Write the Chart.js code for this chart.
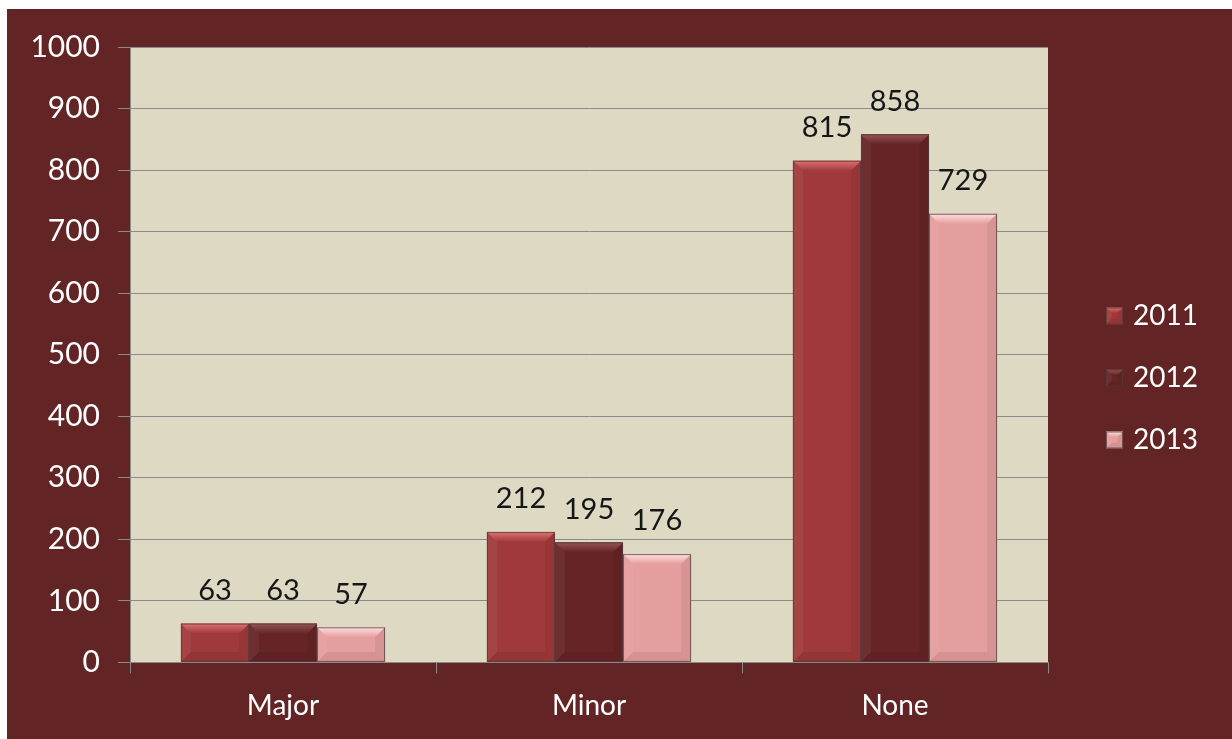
<!DOCTYPE html>
<html>
<head>
<meta charset="utf-8">
<script src="https://cdn.jsdelivr.net/npm/chart.js@4"></script>
<style>
  html, body { margin: 0; height: 100%; background: #632425; overflow: hidden; }
  .edge { position: absolute; background: #fff; }
  #top { left: 0; top: 0; right: 0; height: 9px; }
  #left { left: 0; top: 0; bottom: 0; width: 7px; }
  #wrap { position: absolute; left: 7px; top: 9px; right: 0; bottom: 0; background: #632425; }
</style>
</head>
<body>
<div class="edge" id="top"></div>
<div class="edge" id="left"></div>
<div id="wrap"><canvas id="c"></canvas></div>
<script>
const categories = ['Major', 'Minor', 'None'];
const years = ['2011', '2012', '2013'];
const values2011 = [63, 212, 815];
const values2012 = [63, 195, 858];
const values2013 = [57, 176, 729];
const yMax = 1000;
const yStep = 100;

// face colour and top-bevel highlight per year
const faceColors = ['#A03A3A', '#672426', '#E59E9E'];
const lightColors = ['#E07070', '#965454', '#FFE0E0'];

const FONT = 'Lato, "Open Sans", sans-serif';
const GRID = '#8A8A8A';

function poly(ctx, pts, fill) {
  ctx.beginPath();
  ctx.moveTo(pts[0][0], pts[0][1]);
  for (let i = 1; i < pts.length; i++) ctx.lineTo(pts[i][0], pts[i][1]);
  ctx.closePath();
  ctx.fillStyle = fill;
  ctx.fill();
}

// bevelled rectangle, like the old office "chisel" bars
function bevelBox(ctx, l, t, r, b, face, light, size) {
  const s = Math.min(size, (r - l) / 3, (b - t) / 2);
  ctx.save();
  ctx.fillStyle = face;
  ctx.fillRect(l, t, r - l, b - t);
  const g = ctx.createLinearGradient(0, t, 0, t + s);
  g.addColorStop(0, light);
  g.addColorStop(1, face);
  poly(ctx, [[l, t], [r, t], [r - s, t + s], [l + s, t + s]], g);
  poly(ctx, [[l, t], [l + s, t + s], [l + s, b - s], [l, b]], 'rgba(255,255,255,0.05)');
  poly(ctx, [[r, t], [r, b], [r - s, b - s], [r - s, t + s]], 'rgba(0,0,0,0.06)');
  poly(ctx, [[l, b], [l + s, b - s], [r - s, b - s], [r, b]], 'rgba(0,0,0,0.07)');
  ctx.strokeStyle = 'rgba(80,60,60,0.75)';
  ctx.lineWidth = 1;
  ctx.strokeRect(l + 0.5, t + 0.5, r - l - 1, b - t - 1);
  ctx.restore();
}

const plotBg = {
  id: 'plotBg',
  beforeDraw(chart) {
    const { ctx, chartArea: a } = chart;
    ctx.save();
    ctx.fillStyle = '#DDD9C3';
    ctx.fillRect(a.left, a.top, a.right - a.left, a.bottom - a.top);
    ctx.restore();
  }
};

const bevelBars = {
  id: 'bevelBars',
  afterDatasetsDraw(chart) {
    const ctx = chart.ctx;
    chart.data.datasets.forEach((ds, i) => {
      chart.getDatasetMeta(i).data.forEach((bar, j) => {
        const p = bar.getProps(['x', 'y', 'base', 'width'], true);
        const l = p.x - p.width / 2, r = p.x + p.width / 2;
        bevelBox(ctx, l, p.y, r, p.base, faceColors[i], lightColors[i], 10);
        ctx.save();
        ctx.fillStyle = '#161616';
        ctx.font = '29px ' + FONT;
        ctx.textAlign = 'center';
        ctx.textBaseline = 'middle';
        ctx.fillText(String(ds.data[j]), p.x, p.y - 33);
        ctx.restore();
      });
    });
  }
};

const sideLegend = {
  id: 'sideLegend',
  afterDraw(chart) {
    const ctx = chart.ctx;
    const x = chart.chartArea.right + 58;
    const mid = chart.height / 2 + 4;
    chart.data.datasets.forEach((ds, i) => {
      const cy = mid + (i - 1) * 62;
      bevelBox(ctx, x, cy - 8.5, x + 17, cy + 8.5, faceColors[i], lightColors[i], 7);
      ctx.save();
      ctx.fillStyle = '#FFFFFF';
      ctx.font = '28px ' + FONT;
      ctx.textBaseline = 'middle';
      ctx.fillText(ds.label, x + 27, cy);
      ctx.restore();
    });
  }
};

new Chart(document.getElementById('c'), {
  type: 'bar',
  data: {
    labels: categories,
    datasets: [
      { label: years[0], data: values2011, backgroundColor: faceColors[0] },
      { label: years[1], data: values2012, backgroundColor: faceColors[1] },
      { label: years[2], data: values2013, backgroundColor: faceColors[2] }
    ]
  },
  options: {
    responsive: true,
    maintainAspectRatio: false,
    animation: false,
    categoryPercentage: 0.667,
    barPercentage: 1,
    layout: { padding: { left: 0, top: 38, right: 184, bottom: 0 } },
    plugins: { legend: { display: false }, tooltip: { enabled: false } },
    scales: {
      x: {
        grid: { drawOnChartArea: false, color: GRID, tickLength: 11 },
        border: { color: GRID },
        ticks: { color: '#FFFFFF', font: { family: FONT, size: 28 }, padding: 16 }
      },
      y: {
        min: 0,
        max: yMax,
        afterFit(s) { s.width = 123; },
        grid: { color: GRID, tickLength: 12 },
        border: { color: GRID },
        ticks: {
          stepSize: yStep,
          color: '#FFFFFF',
          font: { family: FONT, size: 30 },
          padding: 18,
          callback: v => String(v)
        }
      }
    }
  },
  plugins: [plotBg, bevelBars, sideLegend]
});
</script>
</body>
</html>
